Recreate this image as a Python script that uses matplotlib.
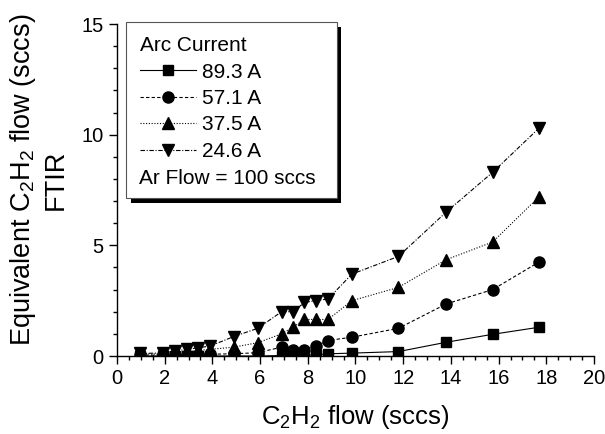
import numpy as np
import matplotlib
matplotlib.use("Agg")
import matplotlib.pyplot as plt
from matplotlib.patches import Rectangle
from matplotlib.ticker import MultipleLocator

plt.rcParams['font.family'] = ['Liberation Sans', 'DejaVu Sans']
plt.rcParams['mathtext.default'] = 'regular'

# C2H2 flow (sccs)
flow = [0.96, 1.93, 2.43, 2.93, 3.4, 3.9, 4.9, 5.9, 6.9, 7.38, 7.86, 8.34,
        8.85, 9.85, 11.8, 13.8, 15.75, 17.7]
# equivalent C2H2 flow from FTIR, one list per arc current
i_893 = [0.0, 0.0, 0.0, 0.0, 0.0, 0.0, 0.0, 0.0, 0.02, 0.03, 0.04, 0.05,
         0.1, 0.13, 0.2, 0.62, 0.98, 1.3]
i_571 = [0.05, 0.03, 0.05, 0.05, 0.06, 0.08, 0.1, 0.15, 0.4, 0.25, 0.25, 0.45,
         0.7, 0.85, 1.25, 2.35, 3.0, 4.25]
i_375 = [0.1, 0.08, 0.15, 0.2, 0.25, 0.3, 0.4, 0.6, 1.0, 1.3, 1.65, 1.65,
         1.65, 2.5, 3.1, 4.35, 5.15, 7.2]
i_246 = [0.12, 0.13, 0.22, 0.3, 0.37, 0.45, 0.88, 1.25, 2.0, 2.0, 2.42, 2.5,
         2.58, 3.7, 4.5, 6.5, 8.3, 10.3]

labels = ['89.3 A', '57.1 A', '37.5 A', '24.6 A']

W, H = 605, 434
fig = plt.figure(figsize=(W / 100, H / 100), dpi=100)
ax = fig.add_axes([117 / W, 1 - 356 / H, (594 - 117) / W, (356 - 24) / H])

ax.plot(flow, i_893, '-', color='k', lw=0.8, marker='s', ms=7.5, label=labels[0])
ax.plot(flow, i_571, color='k', lw=0.8, ls=(0, (3, 2)), marker='o', ms=8, label=labels[1])
ax.plot(flow, i_375, color='k', lw=0.8, ls=(0, (1, 1.5)), marker='^', ms=9, label=labels[2])
ax.plot(flow, i_246, color='k', lw=0.8, ls=(0, (4, 1.5, 1, 1.5)), marker='v', ms=9, label=labels[3])

ax.set_xlim(0, 20)
ax.set_ylim(0, 15)
ax.xaxis.set_major_locator(MultipleLocator(2))
ax.xaxis.set_minor_locator(MultipleLocator(0.5))
ax.yaxis.set_major_locator(MultipleLocator(5))
ax.yaxis.set_minor_locator(MultipleLocator(1))
ax.tick_params(which='major', direction='out', length=5.5, width=1, labelsize=14.5, pad=4)
ax.tick_params(which='minor', direction='out', length=3, width=1)
for s in ['top', 'right']:
    ax.spines[s].set_visible(False)
for s in ['left', 'bottom']:
    ax.spines[s].set_linewidth(1)

ax.set_xlabel('C$_{2}$H$_{2}$ flow (sccs)', fontsize=18.5)
ax.set_ylabel('Equivalent C$_{2}$H$_{2}$ flow (sccs)\nFTIR', fontsize=19.5,
              linespacing=1.25)
ax.xaxis.set_label_coords(0.5, (356 - 403) / 332)
ax.yaxis.set_label_coords((69 - 117) / 477, (356 - 180) / 332)

# legend box with black shadow
tf = fig.transFigure
ax.add_patch(Rectangle((131 / W, 1 - 203 / H), (341 - 131) / W, (203 - 27) / H,
                       transform=tf, facecolor='k', edgecolor='none',
                       zorder=5, clip_on=False))
ax.add_patch(Rectangle((126 / W, 1 - 198 / H), (337 - 126) / W, (198 - 22) / H,
                       transform=tf, facecolor='white', edgecolor='#555555',
                       lw=0.8, zorder=6, clip_on=False))

leg = ax.legend(loc='upper left', bbox_to_anchor=(140 / W, 1 - 36 / H),
                bbox_transform=tf, frameon=False, title='Arc Current',
                alignment='left', fontsize=15, title_fontsize=15,
                handlelength=2.7, handletextpad=0.3, labelspacing=0.36,
                borderpad=0, borderaxespad=0)
leg.set_zorder(7)
ax.text(139 / W, 1 - 178 / H, 'Ar Flow = 100 sccs', fontsize=15,
        va='center', ha='left', zorder=8, transform=tf)

fig.savefig('out.png', dpi=100)
